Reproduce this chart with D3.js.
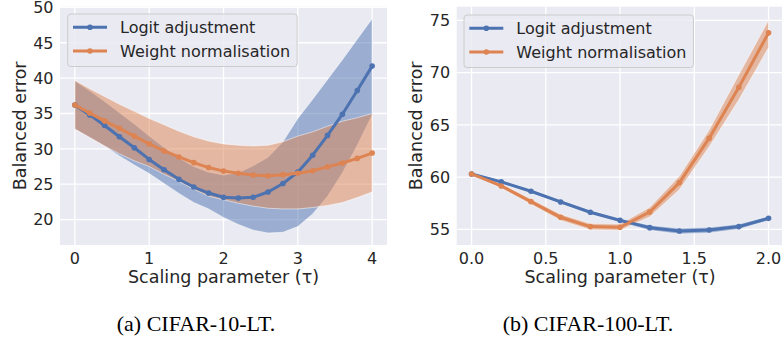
<!DOCTYPE html>
<html>
<head>
<meta charset="utf-8">
<script src="https://cdn.jsdelivr.net/npm/d3@7"></script>
<style>
  body { margin: 0; background: #fff; }
  svg { display: block; }
</style>
</head>
<body>
<svg id="fig" width="782" height="339"></svg>
<script>
// values
const seriesNames = ["Logit adjustment", "Weight normalisation"];
const captions = ["(a) CIFAR-10-LT.", "(b) CIFAR-100-LT."];

// CIFAR-10-LT
const tau10 = [0, 0.2, 0.4, 0.6, 0.8, 1.0, 1.2, 1.4, 1.6, 1.8, 2.0, 2.2, 2.4, 2.6, 2.8, 3.0, 3.2, 3.4, 3.6, 3.8, 4.0];
const logitMean10 = [36.2, 34.8, 33.3, 31.7, 30.15, 28.5, 27.05, 25.7, 24.6, 23.75, 23.15, 23.05, 23.15, 23.9, 25.1, 26.7, 29.1, 31.9, 34.9, 38.25, 41.7];
const logitHigh10 = [39.6, 38.2, 36.7, 35.1, 33.5, 31.8, 30.2, 28.7, 27.5, 26.7, 26.3, 26.6, 27.6, 28.8, 31.0, 34.3, 37.0, 39.8, 42.6, 45.5, 48.4];
const logitLow10 = [32.8, 31.6, 30.4, 29.0, 27.7, 26.5, 25.1, 23.7, 22.4, 21.5, 20.3, 19.3, 18.5, 18.1, 18.2, 19.0, 20.8, 23.3, 26.6, 30.5, 34.8];
const normMean10 = [36.2, 35.05, 33.95, 32.9, 31.8, 30.7, 29.7, 28.85, 28.05, 27.35, 26.85, 26.55, 26.3, 26.2, 26.35, 26.55, 26.9, 27.45, 28.0, 28.65, 29.4];
const normHigh10 = [39.7, 38.5, 37.4, 36.3, 35.3, 34.3, 33.4, 32.5, 31.7, 31.1, 30.7, 30.5, 30.4, 30.5, 31.0, 31.8, 32.4, 33.2, 33.9, 34.4, 35.0];
const normLow10 = [32.8, 31.6, 30.4, 29.3, 28.3, 27.5, 26.4, 25.4, 24.3, 23.3, 22.8, 22.3, 21.9, 21.6, 21.5, 21.5, 21.7, 22.0, 22.4, 23.1, 23.9];

// CIFAR-100-LT
const tau100 = [0, 0.2, 0.4, 0.6, 0.8, 1.0, 1.2, 1.4, 1.6, 1.8, 2.0];
const logitMean100 = [60.3, 59.54, 58.64, 57.62, 56.63, 55.86, 55.16, 54.84, 54.94, 55.26, 56.05];
const logitHigh100 = [60.4, 59.7, 58.8, 57.8, 56.8, 56.05, 55.4, 55.1, 55.2, 55.5, 56.25];
const logitLow100 = [60.2, 59.4, 58.5, 57.45, 56.45, 55.65, 54.9, 54.55, 54.65, 55.0, 55.85];
const normMean100 = [60.3, 59.15, 57.65, 56.15, 55.26, 55.2, 56.66, 59.47, 63.72, 68.6, 73.8];
const normHigh100 = [60.4, 59.35, 57.9, 56.45, 55.55, 55.5, 57.1, 60.1, 64.5, 69.8, 75.0];
const normLow100 = [60.2, 58.95, 57.4, 55.85, 54.95, 54.9, 56.2, 58.8, 62.9, 67.4, 72.4];

const xTicks10 = [0, 1, 2, 3, 4];
const yTicks10 = [20, 25, 30, 35, 40, 45, 50];
const xTicks100 = [0, 0.5, 1.0, 1.5, 2.0];
const yTicks100 = [55, 60, 65, 70, 75];

const colors = ["#4C72B0", "#DD8452"]; // seaborn deep
const bg = "#EAEAF2";
const ink = "#262626";
const font = "DejaVu Sans, sans-serif";

const svg = d3.select("#fig");

const panels = [
  {
    left: 60, right: 387, top: 6.7, bottom: 245,
    xDomain: [-0.2, 4.2], yDomain: [16.4, 50.1],
    xTicks: xTicks10, yTicks: yTicks10, xFmt: d3.format("d"),
    tau: tau10,
    series: [
      {mean: logitMean10, lo: logitLow10, hi: logitHigh10},
      {mean: normMean10, lo: normLow10, hi: normHigh10}
    ],
    yLabelX: 26, legendX: 67.7, legendY: 14, captionX: 196, caption: captions[0]
  },
  {
    left: 456.7, right: 783.4, top: 6.7, bottom: 245,
    xDomain: [-0.1, 2.1], yDomain: [53.5, 76.3],
    xTicks: xTicks100, yTicks: yTicks100, xFmt: d3.format(".1f"),
    tau: tau100,
    series: [
      {mean: logitMean100, lo: logitLow100, hi: logitHigh100},
      {mean: normMean100, lo: normLow100, hi: normHigh100}
    ],
    yLabelX: 422, legendX: 464, legendY: 15, captionX: 588, caption: captions[1]
  }
];

panels.forEach(p => drawPanel(p));

function drawPanel(p) {
  let x = d3.scaleLinear().domain(p.xDomain).range([p.left, p.right]);
  let y = d3.scaleLinear().domain(p.yDomain).range([p.bottom, p.top]);
  let g = svg.append("g");

  g.append("rect")
    .attr("x", p.left).attr("y", p.top)
    .attr("width", p.right - p.left).attr("height", p.bottom - p.top)
    .attr("fill", bg);

  // grid
  g.append("g").selectAll("line").data(p.xTicks).join("line")
    .attr("x1", d => x(d)).attr("x2", d => x(d))
    .attr("y1", p.top).attr("y2", p.bottom)
    .attr("stroke", "#fff").attr("stroke-width", 1.3);
  g.append("g").selectAll("line").data(p.yTicks).join("line")
    .attr("x1", p.left).attr("x2", p.right)
    .attr("y1", d => y(d)).attr("y2", d => y(d))
    .attr("stroke", "#fff").attr("stroke-width", 1.3);

  // tick labels
  g.append("g").selectAll("text").data(p.xTicks).join("text")
    .attr("x", d => x(d)).attr("y", p.bottom + 18.5)
    .attr("text-anchor", "middle")
    .attr("font-family", font).attr("font-size", 16).attr("fill", ink)
    .text(d => p.xFmt(d));
  g.append("g").selectAll("text").data(p.yTicks).join("text")
    .attr("x", p.left - 6.5).attr("y", d => y(d))
    .attr("dy", "0.36em")
    .attr("text-anchor", "end")
    .attr("font-family", font).attr("font-size", 16).attr("fill", ink)
    .text(d => d);

  // axis labels
  g.append("text")
    .attr("x", (p.left + p.right) / 2).attr("y", 283)
    .attr("text-anchor", "middle")
    .attr("font-family", font).attr("font-size", 17.5).attr("fill", ink)
    .text("Scaling parameter (\u03C4)");
  g.append("text")
    .attr("transform", `translate(${p.yLabelX},${(p.top + p.bottom) / 2}) rotate(-90)`)
    .attr("text-anchor", "middle")
    .attr("font-family", font).attr("font-size", 17.5).attr("fill", ink)
    .text("Balanced error");

  // bands first, then lines on top
  let area = d3.area()
    .x((d, i) => x(p.tau[i]))
    .y0(d => y(d[0]))
    .y1(d => y(d[1]));
  p.series.forEach((s, k) => {
    g.append("path")
      .datum(s.lo.map((v, i) => [v, s.hi[i]]))
      .attr("d", area)
      .attr("fill", colors[k]).attr("fill-opacity", 0.5)
      .attr("stroke", "#fff").attr("stroke-opacity", 0.5).attr("stroke-width", 1);
  });

  let line = d3.line().x((d, i) => x(p.tau[i])).y(d => y(d));
  p.series.forEach((s, k) => {
    g.append("path")
      .datum(s.mean)
      .attr("d", line)
      .attr("fill", "none").attr("stroke", colors[k])
      .attr("stroke-width", 3).attr("stroke-linejoin", "round");
    g.append("g").selectAll("circle").data(s.mean).join("circle")
      .attr("cx", (d, i) => x(p.tau[i])).attr("cy", d => y(d))
      .attr("r", 2.8).attr("fill", colors[k]);
  });

  // legend
  let leg = g.append("g").attr("transform", `translate(${p.legendX},${p.legendY})`);
  let box = leg.append("rect")
    .attr("rx", 3).attr("ry", 3)
    .attr("fill", bg).attr("fill-opacity", 0.8)
    .attr("stroke", "#cccccc").attr("stroke-width", 1);
  let maxW = 0;
  seriesNames.forEach((name, k) => {
    let cy = 13.3 + k * 23.7;
    leg.append("line")
      .attr("x1", 5.3).attr("x2", 39.3).attr("y1", cy).attr("y2", cy)
      .attr("stroke", colors[k]).attr("stroke-width", 3);
    leg.append("circle").attr("cx", 22.3).attr("cy", cy).attr("r", 2.8).attr("fill", colors[k]);
    let t = leg.append("text")
      .attr("x", 52.3).attr("y", cy).attr("dy", "0.36em")
      .attr("font-family", font).attr("font-size", 16).attr("fill", ink)
      .text(name);
    maxW = Math.max(maxW, t.node().getComputedTextLength());
  });
  box.attr("width", 52.3 + maxW + 7).attr("height", 52.5);

  // caption
  svg.append("text")
    .attr("x", p.captionX).attr("y", 331)
    .attr("text-anchor", "middle")
    .attr("font-family", "Liberation Serif, Times New Roman, serif")
    .attr("font-size", 22).attr("fill", "#000")
    .text(p.caption);
}
</script>
</body>
</html>
